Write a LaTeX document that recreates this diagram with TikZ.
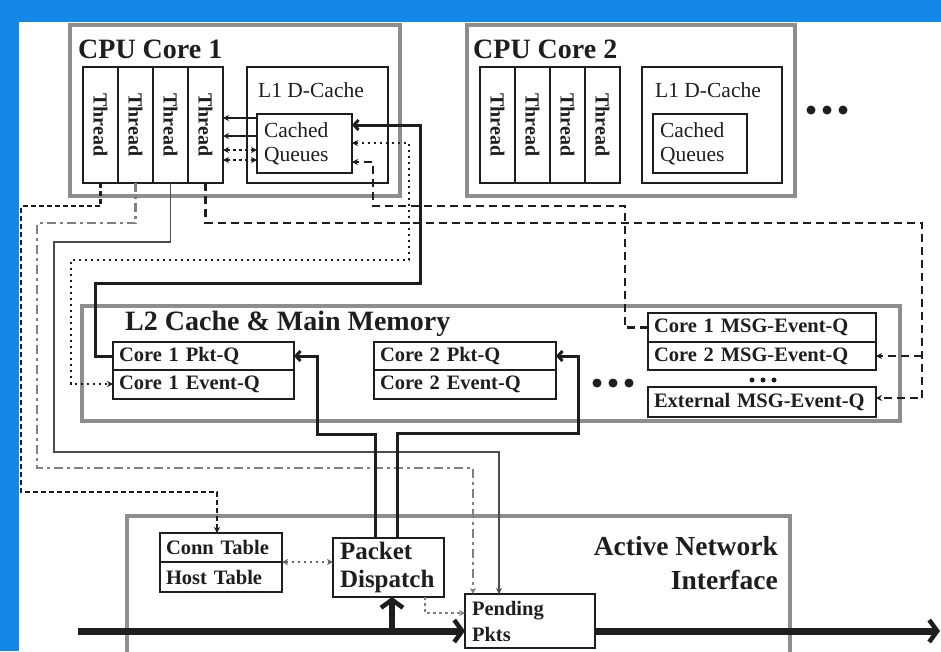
\documentclass[tikz,border=0pt]{standalone}
\usepackage{fontspec}
\setmainfont{Liberation Serif}
\usetikzlibrary{arrows.meta,calc}
\definecolor{bgblue}{HTML}{1488E6}
\definecolor{ink}{HTML}{1E1E1E}
\definecolor{framegray}{HTML}{8E8E8E}
\begin{document}
\begin{tikzpicture}[x=1pt,y=-1pt,
  frame/.style={draw=framegray, line width=4pt, anchor=north west, inner sep=0pt, outer sep=0pt},
  box/.style={draw=ink, line width=1.8pt, anchor=north west, inner sep=0pt, outer sep=0pt},
  tbox/.style={box, inner xsep=6pt, inner ysep=0pt, align=left, text=ink},
  ttl/.style={font=\bfseries\fontsize{28}{30}\selectfont, text=ink, inner sep=0pt, anchor=base west},
  lbb/.style={font=\bfseries\fontsize{20.5}{26}\selectfont},
  lbr/.style={font=\fontsize{21.5}{24}\selectfont},
  thr/.style={box, minimum width=35pt, minimum height=116pt,
    label={[rotate=-90, font=\bfseries\fontsize{20}{22}\selectfont, text=ink]center:Thread}},
  sm/.style={-{Stealth[length=6pt,width=6pt]}},
  smb/.style={{Stealth[length=6pt,width=6pt]}-{Stealth[length=6pt,width=6pt]}},
  thick black/.style={draw=ink, line width=3pt},
  bar/.style={-{Straight Barb[length=4.5pt,width=10pt]}},
  dsh/.style={draw=ink, line width=2.2pt, dash pattern=on 8pt off 5pt},
  dtt/.style={draw=ink, line width=2.2pt, dash pattern=on 2.5pt off 3.5pt},
  ddg/.style={draw=black!50, line width=2.4pt, dash pattern=on 9pt off 4pt on 3pt off 4pt},
  gsl/.style={draw=black!70, line width=1.9pt},
  net/.style={draw=ink, line width=7pt, -{Straight Barb[length=8pt,width=22pt,line width=4.5pt]}}
]
\useasboundingbox (0,0) rectangle (941,651);
\fill[bgblue] (0,0) rectangle (941,651);
\fill[white] (19,22) rectangle (941,651);

% ---------- CPU Core 1 ----------
\node[frame, minimum width=330pt, minimum height=171pt] (core1) at (70,25) {};
\node[ttl] (core1t) at (78,58) {CPU Core 1};
\foreach \i/\x in {1/83,2/118,3/153,4/188} \node[thr] (t1\i) at (\x,67) {};
\node[box, minimum width=141pt, minimum height=116pt] (l1a) at (247,67) {};
\node[lbr, anchor=base west, inner sep=0pt, text=ink] (l1at) at (258,97) {L1 D-Cache};
\node[tbox, lbr, inner xsep=7pt, text width=81pt, minimum height=59pt] (cq1) at (257,114) {Cached\\Queues};

% ---------- CPU Core 2 ----------
\node[frame, minimum width=328pt, minimum height=171pt] (core2) at (467,25) {};
\node[ttl] (core2t) at (473,58) {CPU Core 2};
\foreach \i/\x in {1/480,2/515,3/550,4/585} \node[thr] (t2\i) at (\x,67) {};
\node[box, minimum width=140pt, minimum height=116pt] (l1b) at (642,67) {};
\node[lbr, anchor=base west, inner sep=0pt, text=ink] (l1bt) at (655,97) {L1 D-Cache};
\node[tbox, lbr, inner xsep=7pt, text width=80pt, minimum height=59pt] (cq2) at (653,114) {Cached\\Queues};
\foreach \x in {811,827,843} \fill[ink] (\x,110) circle (4.5pt);

% ---------- L2 Cache & Main Memory ----------
\node[frame, minimum width=818pt, minimum height=115pt] (l2) at (82,306) {};
\node[ttl] (l2t) at (125,330) {L2 Cache \& Main Memory};
\node[tbox, lbb, text width=169pt, minimum height=28pt] (p1) at (113,342) {Core 1 Pkt-Q};
\node[tbox, lbb, text width=169pt, minimum height=29pt] (e1) at (113,370) {Core 1 Event-Q};
\node[tbox, lbb, text width=170pt, minimum height=28pt] (p2) at (374,342) {Core 2 Pkt-Q};
\node[tbox, lbb, text width=170pt, minimum height=29pt] (e2) at (374,370) {Core 2 Event-Q};
\foreach \x in {597,613,629} \fill[ink] (\x,383) circle (4.5pt);
\node[tbox, lbb, text width=216pt, minimum height=29pt] (m1) at (648,313) {Core 1 MSG-Event-Q};
\node[tbox, lbb, text width=216pt, minimum height=28pt] (m2) at (648,342) {Core 2 MSG-Event-Q};
\foreach \x in {752,763,774} \fill[ink] (\x,380) circle (2.5pt);
\node[tbox, lbb, text width=216pt, minimum height=30pt] (mx) at (648,387) {External MSG-Event-Q};

% ---------- Active Network Interface ----------
\node[frame, minimum width=663pt, minimum height=160pt] (ani) at (127,516) {};
\node[font=\bfseries\fontsize{27.5}{34}\selectfont, text=ink, anchor=north east, align=right, inner sep=0pt] (anit) at (778,536) {Active Network\\Interface};
\node[tbox, lbb, text width=110pt, minimum height=29pt] (ct) at (160,533) {Conn Table};
\node[tbox, lbb, text width=110pt, minimum height=30pt] (ht) at (160,562) {Host Table};
\node[tbox, font=\bfseries\fontsize{25}{28}\selectfont, inner xsep=7pt, text width=97pt, minimum height=59pt] (pd) at (333,538) {Packet\\Dispatch};
\node[tbox, lbb, inner xsep=7pt, text width=116pt, minimum height=54pt] (pp) at (465,594) {Pending\\Pkts};

% ---------- connectors: threads <-> cached queues ----------
\draw[thick black, line width=1.8pt, sm] (cq1.west |- 0,118) -- (t14.east |- 0,118);
\draw[thick black, line width=1.8pt, sm] (cq1.west |- 0,136) -- (t14.east |- 0,136);
\draw[dsh, line width=1.8pt, dash pattern=on 3pt off 3pt, smb] (t14.east |- 0,150) -- (cq1.west |- 0,150);
\draw[dsh, line width=1.8pt, dash pattern=on 3pt off 3pt, smb] (t14.east |- 0,160) -- (cq1.west |- 0,160);

% Core 1 Pkt-Q -> Cached Queues
\draw[thick black, bar] (p1.west) -- (95,356) -- (95,283) -- (420,283) -- (420,125) -- (cq1.east |- 0,125);
% Cached Queues <-> Core 1 Event-Q
\draw[dtt, smb] (cq1.east |- 0,143) -- (409,143) -- (409,260) -- (71,260) -- (71,384) -- (e1.west |- 0,384);
% Core 1 MSG-Event-Q -> Cached Queues
\draw[dsh, sm] (m1.west) -- (625,327.5) -- (625,206) -- (373,206) -- (373,162) -- (cq1.east |- 0,162);

% Thread 1 -> Conn Table
\draw[dsh, dash pattern=on 5pt off 3pt, sm] (t11.south) -- (100.5,206) -- (21,206) -- (21,492) -- (217,492) -- (ct.north -| 217,0);
% Thread 2 -> Pending Pkts
\draw[ddg, sm] (t12.south) -- (135.5,223) -- (37,223) -- (37,468) -- (473,468) -- (pp.north -| 473,0);
% Thread 3 -> Pending Pkts
\draw[gsl, sm] (t13.south) -- (170.5,242) -- (54,242) -- (54,452) -- (499,452) -- (pp.north -| 499,0);
% Thread 4 -> Core 2 MSG-Event-Q and External MSG-Event-Q
\draw[dsh, sm] (t14.south) -- (205.5,223) -- (922,223) -- (922,398) -- (mx.east |- 0,398);
\draw[dsh, sm] (922,356) -- (m2.east);

% Packet Dispatch -> Pkt queues
\draw[thick black, bar] (pd.north -| 375,0) -- (375,434) -- (317,434) -- (317,356) -- (p1.east);
\draw[thick black, bar] (pd.north -| 397,0) -- (397,433) -- (578,433) -- (578,356) -- (p2.east);

% Conn Table <-> Packet Dispatch
\draw[dtt, draw=black!60, smb] (ct.east |- 0,562) -- (pd.west |- 0,562);
% Packet Dispatch -> Pending Pkts
\draw[ddg, line width=1.8pt, dash pattern=on 3pt off 3pt, sm] (pd.south -| 425,0) -- (425,613) -- (pp.west |- 0,613);

% Network line
\coordinate (netin) at (78,631);
\coordinate (netout) at (940,631);
\draw[net] (netin) -- (pp.west |- 0,631);
\draw[net] (pp.east |- 0,631) -- (netout);
\draw[net, line width=6pt] (392,631) -- (pd.south -| 392,0);
\end{tikzpicture}
\end{document}
